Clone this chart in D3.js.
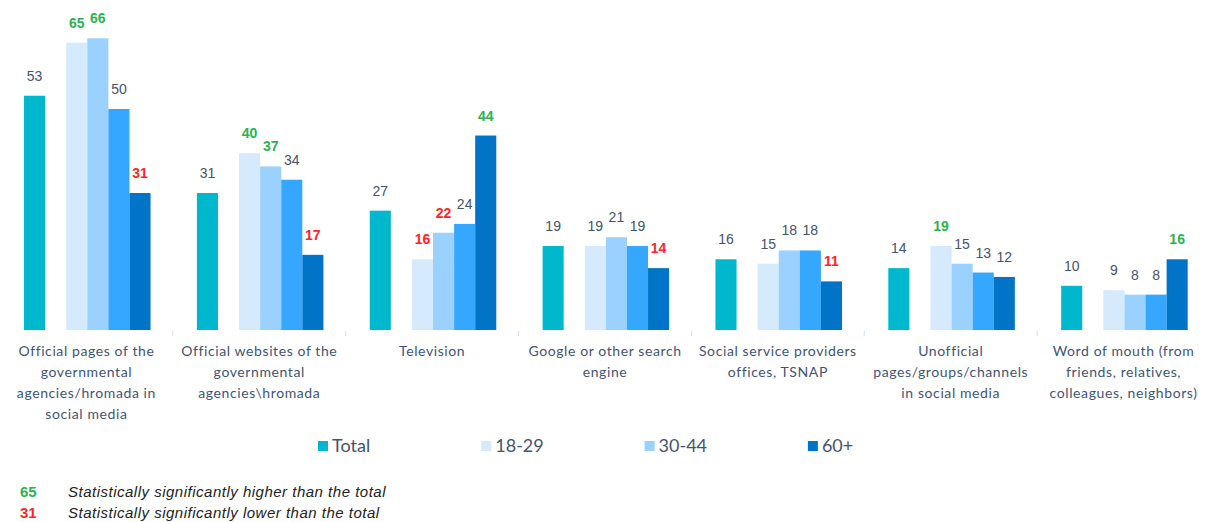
<!DOCTYPE html>
<html>
<head>
<meta charset="utf-8">
<script src="https://cdn.jsdelivr.net/npm/d3@7"></script>
<style>
  html, body { margin: 0; padding: 0; background: #ffffff; }
  svg { display: block; }
</style>
</head>
<body>
<svg id="chart" width="1210" height="522"></svg>
<script>
// Category labels (line breaks mark the wrapped lines under each group)
const categories = [
  "Official pages of the\ngovernmental\nagencies/hromada in\nsocial media",
  "Official websites of the\ngovernmental\nagencies\\hromada",
  "Television",
  "Google or other search\nengine",
  "Social service providers\noffices, TSNAP",
  "Unofficial\npages/groups/channels\nin social media",
  "Word of mouth (from\nfriends, relatives,\ncolleagues, neighbors)"
];

const seriesNames = ["Total", "18-29", "30-44", "45-59", "60+"];
const legendNames = ["Total", "18-29", "30-44", "60+"];

// Percent values per category
const total     = [53, 31, 27, 19, 16, 14, 10];
const age18_29  = [65, 40, 16, 19, 15, 19, 9];
const age30_44  = [66, 37, 22, 21, 18, 15, 8];
const age45_59  = [50, 34, 24, 19, 18, 13, 8];
const age60plus = [31, 17, 44, 14, 11, 12, 16];

// Significance vs. total: "+" higher, "-" lower, "" not significant
const sigTotal   = ["", "", "", "", "", "", ""];
const sig18_29   = ["+", "+", "-", "", "", "+", ""];
const sig30_44   = ["+", "+", "-", "", "", "", ""];
const sig45_59   = ["", "", "", "", "", "", ""];
const sig60plus  = ["-", "-", "+", "-", "-", "", "+"];

const footnotes = [
  { sample: "65", sig: "+", text: "Statistically significantly higher than the total" },
  { sample: "31", sig: "-", text: "Statistically significantly lower than the total" }
];

const seriesValues = [total, age18_29, age30_44, age45_59, age60plus];
const seriesSig = [sigTotal, sig18_29, sig30_44, sig45_59, sig60plus];

const colors = {
  "Total": "#00b8cd",
  "18-29": "#d5eafc",
  "30-44": "#9bd1fe",
  "45-59": "#35a7fe",
  "60+":   "#0174c8"
};
const textColor = "#44546a";
const sigColor = { "+": "#2bb34f", "-": "#ff2424", "": textColor };

const svg = d3.select("#chart");
const W = 1210, baseY = 330;

const x0 = d3.scaleBand().domain(categories).range([0, W]);
const bw = x0.bandwidth();
// Inner slots: Total, a spacer, then four age groups
const x1 = d3.scaleBand()
  .domain(["Total", "_gap", "18-29", "30-44", "45-59", "60+"])
  .range([bw * 0.139, bw * 0.871]);
const y = d3.scaleLinear().domain([0, 74.66]).range([baseY, 0]);

const rows = [];
categories.forEach((c, ci) => {
  seriesNames.forEach((s, si) => {
    rows.push({ cat: c, series: s, value: seriesValues[si][ci], sig: seriesSig[si][ci] });
  });
});

const g = svg.append("g");

// Bars
g.selectAll("rect.bar").data(rows).join("rect")
  .attr("class", "bar")
  .attr("x", d => x0(d.cat) + x1(d.series))
  .attr("y", d => y(d.value))
  .attr("width", x1.bandwidth())
  .attr("height", d => baseY - y(d.value))
  .attr("fill", d => colors[d.series]);

// Value labels
g.selectAll("text.val").data(rows).join("text")
  .attr("class", "val")
  .attr("x", d => x0(d.cat) + x1(d.series) + x1.bandwidth() / 2)
  .attr("y", d => y(d.value) - 15)
  .attr("text-anchor", "middle")
  .attr("font-family", "Liberation Sans, Arial, sans-serif")
  .attr("font-size", 14)
  .attr("font-weight", d => d.sig ? "bold" : "normal")
  .attr("fill", d => sigColor[d.sig])
  .text(d => d.value);

// Category separators below the baseline
const sepX = categories.slice(1).map(c => x0(c));
g.selectAll("line.sep").data(sepX).join("line")
  .attr("class", "sep")
  .attr("x1", d => d).attr("x2", d => d)
  .attr("y1", baseY + 1).attr("y2", baseY + 6)
  .attr("stroke", "#cfdff0").attr("stroke-width", 1);

// Category labels
const catLabels = g.selectAll("text.cat").data(categories).join("text")
  .attr("class", "cat")
  .attr("text-anchor", "middle")
  .attr("font-family", "Lato, sans-serif")
  .attr("font-size", 14)
  .attr("letter-spacing", 0.6)
  .attr("fill", "#3f5474")
  .attr("transform", d => `translate(${x0(d) + bw / 2},${baseY + 26})`);
catLabels.selectAll("tspan").data(d => d.split("\n")).join("tspan")
  .attr("x", 0)
  .attr("dy", (d, i) => i === 0 ? 0 : 21)
  .text(d => d);

// Legend
const legend = svg.append("g").attr("transform", "translate(318,446)");
const legItem = legend.selectAll("g").data(legendNames).join("g")
  .attr("transform", (d, i) => `translate(${i * 163.3},0)`);
legItem.append("rect")
  .attr("x", 0).attr("y", -5).attr("width", 10).attr("height", 10)
  .attr("fill", d => colors[d]);
legItem.append("text")
  .attr("x", 14).attr("y", 6)
  .attr("font-family", "Lato, sans-serif")
  .attr("font-size", 18)
  .attr("fill", textColor)
  .text(d => d);

// Footnotes explaining the colored labels
const notes = svg.append("g").attr("transform", "translate(0,497)");
const noteRow = notes.selectAll("g").data(footnotes).join("g")
  .attr("transform", (d, i) => `translate(0,${i * 21})`);
noteRow.append("text")
  .attr("x", 20)
  .attr("font-family", "Liberation Sans, Arial, sans-serif")
  .attr("font-size", 15).attr("font-weight", "bold")
  .attr("fill", d => sigColor[d.sig])
  .text(d => d.sample);
noteRow.append("text")
  .attr("x", 68)
  .attr("font-family", "Liberation Sans, Arial, sans-serif")
  .attr("font-size", 15).attr("font-style", "italic")
  .attr("letter-spacing", 0.5)
  .attr("fill", "#222222")
  .text(d => d.text);
</script>
</body>
</html>
